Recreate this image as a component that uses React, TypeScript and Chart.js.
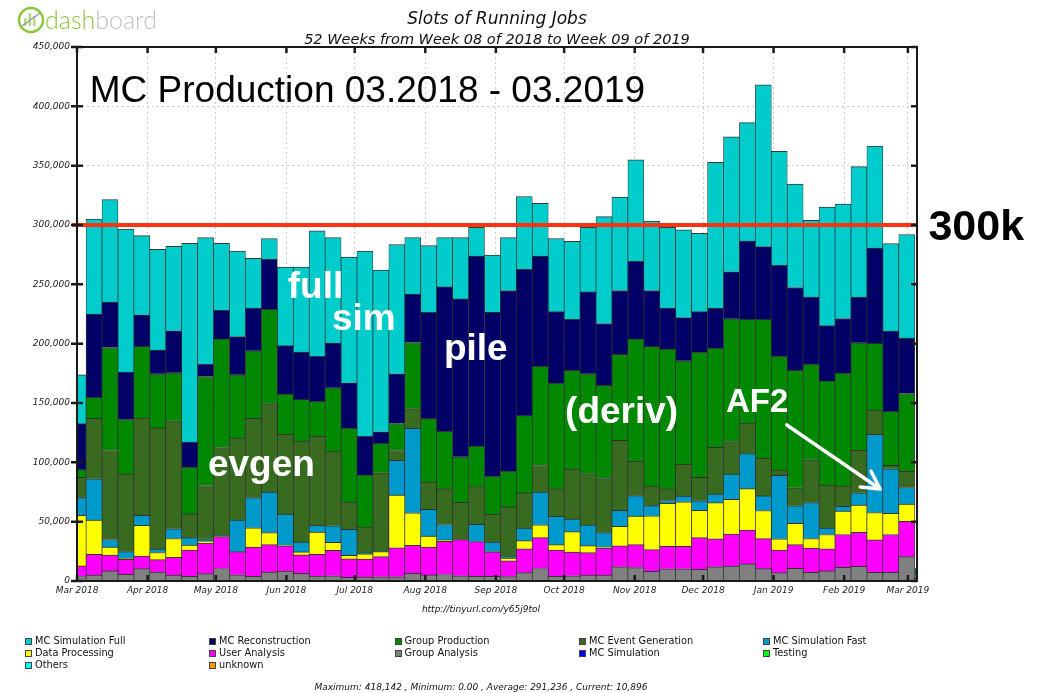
import React, { useEffect, useRef } from 'react';
import { Chart, registerables } from 'chart.js';

Chart.register(...registerables);

// ---------- categories ----------
const weekStarts: string[] = [
  '2018-02-26', '2018-03-05', '2018-03-12', '2018-03-19', '2018-03-26', '2018-04-02', '2018-04-09', '2018-04-16', '2018-04-23', '2018-04-30',
  '2018-05-07', '2018-05-14', '2018-05-21', '2018-05-28', '2018-06-04', '2018-06-11', '2018-06-18', '2018-06-25', '2018-07-02', '2018-07-09',
  '2018-07-16', '2018-07-23', '2018-07-30', '2018-08-06', '2018-08-13', '2018-08-20', '2018-08-27', '2018-09-03', '2018-09-10', '2018-09-17',
  '2018-09-24', '2018-10-01', '2018-10-08', '2018-10-15', '2018-10-22', '2018-10-29', '2018-11-05', '2018-11-12', '2018-11-19', '2018-11-26',
  '2018-12-03', '2018-12-10', '2018-12-17', '2018-12-24', '2018-12-31', '2019-01-07', '2019-01-14', '2019-01-21', '2019-01-28', '2019-02-04',
  '2019-02-11', '2019-02-18', '2019-02-25', '2019-03-04',
];

// ---------- series values (thousands of slots) ----------
const mcSimulationFull = [41.1, 80, 86.5, 120.6, 66.6, 84.9, 71.2, 167.5, 106.9, 56.5, 72, 42, 17.6, 66.3, 71.6, 105.6, 89.1, 106, 156, 136.2, 109, 47.7, 56.3, 41.7, 51.8, 24.2, 48.3, 44.7, 61.4, 44.4, 61.6, 65.7, 54.4, 90, 78.7, 85.6, 58.6, 68, 74, 66, 122.8, 113.9, 99.8, 136.3, 96, 87.2, 64.7, 99.8, 96.4, 109.9, 86.1, 73.7, 87.3, 1.8];
const mcReconstruction = [38.8, 70.2, 38.2, 40, 26.7, 19.9, 35.3, 21, 10.3, 24, 32.2, 36, 42, 40.8, 40, 37.9, 37.6, 38.2, 32.6, 9.8, 41.9, 40.8, 89.6, 121.6, 133.1, 160, 138, 152.2, 123.3, 92.8, 60.2, 42.9, 69, 52.1, 53.8, 65.4, 47.1, 34.6, 36.4, 34, 33.8, 39.5, 66, 61.3, 76.5, 69.8, 56.6, 46.6, 46, 38.5, 80.3, 67.7, 46.7, 1.4];
const groupProduction = [6.5, 17.8, 86.8, 46, 60.5, 45.6, 40.5, 39.5, 91.8, 91.5, 53.3, 57, 79.5, 33.8, 35, 29.5, 53.3, 62.2, 44, 24.8, 22.7, 55.7, 53.4, 48.4, 38.3, 34.3, 32.2, 30.2, 65.1, 83.7, 89, 83.3, 84.1, 78.6, 72.5, 103.1, 117.7, 117.6, 87.3, 105.7, 83.6, 103.5, 87.5, 117.1, 96, 99, 80.5, 87.8, 95.3, 90.6, 56.2, 45.6, 65.5, 1.0];
const mcEventGeneration = [17.1, 50.8, 75, 65.2, 81.9, 102, 91, 20, 45, 73.9, 69.2, 66.7, 74.5, 67.4, 85.2, 75, 63, 23.1, 21.9, 66.2, 8.3, 16.6, 23.1, 30.2, 31.2, 31.8, 23.3, 41.9, 29.6, 22.3, 23.2, 42.1, 43.4, 45.5, 59, 28.9, 16.5, 10, 26.7, 19.7, 39.3, 27.5, 25.7, 31.7, 4.5, 15.1, 36.1, 36.3, 17, 35.8, 20.5, 2.8, 13.7, 0.5];
const mcSimulationFast = [14.8, 34.9, 6.5, 5.6, 8.3, 3, 8.2, 6.3, 1.7, 1.0, 26.6, 25.5, 34.2, 26.5, 8.3, 5.8, 13.9, 21.9, 0.7, 0.2, 29.2, 71.2, 22.5, 13, 0.1, 14.5, 8.2, 1.1, 10.6, 27.7, 24, 10.6, 17.3, 12.3, 13.4, 17.2, 8.5, 2.3, 4.8, 8.1, 7.3, 21.1, 29.5, 12.3, 53.4, 14.9, 30.3, 5.3, 3.9, 10.5, 65.8, 37.5, 14, 2.5];
const dataProcessing = [42.7, 28.8, 6.6, 0.9, 26, 6, 15.8, 4.2, 1.8, 0.2, 0, 16.3, 10.2, 0.1, 2.5, 18.7, 6.8, 3, 4.3, 4.2, 44.5, 27.5, 9.3, 1.1, 0.2, 0, 0.1, 2.3, 6.8, 10.8, 4.6, 17.2, 5.9, 0.8, 16.4, 24.2, 28.5, 36.3, 37.6, 23, 30.5, 29.3, 34.8, 23.7, 9.5, 17.9, 8, 12.1, 19.8, 22.8, 23.1, 17.9, 14.5, 0.3];
const userAnalysis = [8.9, 17.5, 13.4, 12.7, 10.6, 10.5, 15, 22, 25.8, 26.9, 19.5, 24.5, 23, 21.3, 15.5, 18.3, 21.4, 15.6, 15.2, 17.1, 24.5, 23.5, 23.4, 28, 30.4, 29.2, 20.6, 13.4, 20.2, 26, 22, 20, 18.9, 22.7, 17.7, 19.3, 18.3, 18.9, 18.9, 26.7, 23.5, 27, 28.6, 25.3, 19.1, 20, 20.4, 18.6, 27.6, 28.8, 27.2, 31.8, 29.8, 1.2];
const groupAnalysis = [3.8, 5, 8.5, 5.6, 10.4, 7.5, 5, 4, 6.2, 10.5, 5.2, 4, 7.6, 8.4, 6.5, 4.2, 4.4, 3, 3.3, 3.5, 3.5, 6.5, 5.1, 5.5, 4.4, 4, 4, 3.7, 7, 10.5, 4, 4.4, 5, 5, 12, 11.3, 8.2, 10.3, 10.3, 9.8, 12, 12.6, 14.4, 10.4, 7, 10.6, 7.4, 8.5, 11.6, 12.3, 7.4, 7.4, 20.5, 1.5];
const mcSimulation = [0, 0, 0, 0, 0, 0, 0, 0, 0, 0, 0, 0, 0, 0, 0, 0, 0, 0, 0, 0, 0, 0, 0, 0, 0, 0, 0, 0, 0, 0, 0, 0, 0, 0, 0, 0, 0, 0, 0, 0, 0, 0, 0, 0, 0, 0, 0, 0, 0, 0, 0, 0, 0, 0];
const testing = [0, 0, 0, 0, 0, 0, 0, 0, 0, 0, 0, 0, 0, 0, 0, 0, 0, 0, 0, 0, 0, 0, 0, 0, 0, 0, 0, 0, 0, 0, 0, 0, 0, 0, 0, 0, 0, 0, 0, 0, 0, 0, 0, 0, 0, 0, 0, 0, 0, 0, 0, 0, 0, 0.3];
const others = [0, 0, 0, 0, 0, 0, 0, 0, 0, 0, 0, 0, 0, 0, 0, 0, 0, 0, 0, 0, 0, 0, 0, 0, 0, 0, 0, 0, 0, 0, 0, 0, 0, 0, 0, 0, 0, 0, 0, 0, 0, 0, 0, 0, 0, 0, 0, 0, 0, 0, 0, 0, 0, 0.4];
const unknown = [0, 0, 0, 0, 0, 0, 0, 0, 0, 0, 0, 0, 0, 0, 0, 0, 0, 0, 0, 0, 0, 0, 0, 0, 0, 0, 0, 0, 0, 0, 0, 0, 0, 0, 0, 0, 0, 0, 0, 0, 0, 0, 0, 0, 0, 0, 0, 0, 0, 0, 0, 0, 0, 0];

// ---------- axis ticks ----------
const monthTickDates = ['2018-03-01', '2018-04-01', '2018-05-01', '2018-06-01', '2018-07-01', '2018-08-01', '2018-09-01', '2018-10-01', '2018-11-01', '2018-12-01', '2019-01-01', '2019-02-01', '2019-03-01'];
const monthTickLabels = ['Mar 2018', 'Apr 2018', 'May 2018', 'Jun 2018', 'Jul 2018', 'Aug 2018', 'Sep 2018', 'Oct 2018', 'Nov 2018', 'Dec 2018', 'Jan 2019', 'Feb 2019', 'Mar 2019'];
const AXIS_START = '2018-03-01';
const AXIS_END = '2019-03-05';
const Y_MAX = 450000;
const Y_STEP = 50000;
const REFERENCE_LEVEL = 300000;
const UNIT = 1000;

// legend order (top of stack first)
const seriesNames = ['MC Simulation Full', 'MC Reconstruction', 'Group Production', 'MC Event Generation', 'MC Simulation Fast', 'Data Processing', 'User Analysis', 'Group Analysis', 'MC Simulation', 'Testing', 'Others', 'unknown'];
const seriesColors = ['#00cccc', '#000066', '#008800', '#386a20', '#0099cc', '#ffff00', '#ff00ff', '#808080', '#0000ff', '#00ff00', '#00ffff', '#ff9900'];
const seriesValues = [mcSimulationFull, mcReconstruction, groupProduction, mcEventGeneration, mcSimulationFast, dataProcessing, userAnalysis, groupAnalysis, mcSimulation, testing, others, unknown];

// annotations in data coordinates (day offset, slots)
const annotations = [
  { text: 'MC Production 03.2018 - 03.2019', day: 5.6, value: 403600, size: 37, weight: 'normal', color: '#000000' },
  { text: 'full', day: 92.6, value: 238500, size: 37, weight: 'bold', color: '#ffffff' },
  { text: 'sim', day: 112, value: 211500, size: 37, weight: 'bold', color: '#ffffff' },
  { text: 'pile', day: 161.2, value: 186200, size: 37, weight: 'bold', color: '#ffffff' },
  { text: 'evgen', day: 57.5, value: 88500, size: 37, weight: 'bold', color: '#ffffff' },
  { text: '(deriv)', day: 214.4, value: 133100, size: 37, weight: 'bold', color: '#ffffff' },
  { text: 'AF2', day: 285.1, value: 142400, size: 33, weight: 'bold', color: '#ffffff' },
  { text: '300k', day: 374, value: 287400, size: 43, weight: 'bold', color: '#000000' },
];
const arrowFrom = { day: 311.8, value: 131500 };
const arrowTo = { day: 352.8, value: 77500 };

const TICK_FONT = '"DejaVu Sans", sans-serif';

function dayOffset(iso: string): number {
  return (Date.parse(iso + 'T00:00:00Z') - Date.parse(AXIS_START + 'T00:00:00Z')) / 86400000;
}

const overlayPlugin = {
  id: 'overlay',
  afterDatasetsDraw(chart: any) {
    const { ctx, chartArea: a } = chart;
    const x = chart.scales.x;
    const y = chart.scales.y;
    ctx.save();
    // reference line
    const ry = y.getPixelForValue(REFERENCE_LEVEL);
    ctx.strokeStyle = '#ff3311';
    ctx.lineWidth = 4;
    ctx.beginPath();
    ctx.moveTo(a.left - 5, ry);
    ctx.lineTo(a.right + 1, ry);
    ctx.stroke();

    // frame
    ctx.strokeStyle = '#1a1a1a';
    ctx.lineWidth = 2;
    ctx.strokeRect(a.left, a.top, a.right - a.left, a.bottom - a.top);
    ctx.lineWidth = 2.5;
    ctx.beginPath();
    y.ticks.forEach((t: any) => {
      const py = y.getPixelForValue(t.value);
      ctx.moveTo(a.left - 6, py);
      ctx.lineTo(a.left + 6, py);
      ctx.moveTo(a.right - 6, py);
      ctx.lineTo(a.right, py);
    });
    x.ticks.forEach((t: any) => {
      const px = x.getPixelForValue(t.value);
      ctx.moveTo(px, a.top);
      ctx.lineTo(px, a.top + 6);
      ctx.moveTo(px, a.bottom - 6);
      ctx.lineTo(px, a.bottom + 1);
    });
    ctx.stroke();

    // text annotations
    ctx.textBaseline = 'alphabetic';
    ctx.textAlign = 'left';
    annotations.forEach((an) => {
      ctx.font = `${an.weight} ${an.size}px "Liberation Sans", Arial, sans-serif`;
      ctx.fillStyle = an.color;
      ctx.fillText(an.text, x.getPixelForValue(an.day), y.getPixelForValue(an.value));
    });

    // arrow
    const x1 = x.getPixelForValue(arrowFrom.day);
    const y1 = y.getPixelForValue(arrowFrom.value);
    const x2 = x.getPixelForValue(arrowTo.day);
    const y2 = y.getPixelForValue(arrowTo.value);
    const ang = Math.atan2(y2 - y1, x2 - x1);
    const head = 20;
    ctx.strokeStyle = '#ffffff';
    ctx.lineWidth = 3.5;
    ctx.lineCap = 'round';
    ctx.beginPath();
    ctx.moveTo(x1, y1);
    ctx.lineTo(x2, y2);
    ctx.moveTo(x2, y2);
    ctx.lineTo(x2 - head * Math.cos(ang - 0.5), y2 - head * Math.sin(ang - 0.5));
    ctx.moveTo(x2, y2);
    ctx.lineTo(x2 - head * Math.cos(ang + 0.5), y2 - head * Math.sin(ang + 0.5));
    ctx.stroke();
    ctx.restore();
  },
};

function ChartCanvas() {
  const ref = useRef<HTMLCanvasElement | null>(null);
  useEffect(() => {
    if (!ref.current) return;
    const datasets = seriesNames
      .map((name, i) => ({
        label: name,
        data: weekStarts.map((w, k) => ({
          x: dayOffset(w) + 3.5,
          y: seriesValues[i][k] ? seriesValues[i][k] * UNIT : null,
        })),
        backgroundColor: seriesColors[i],
        borderColor: 'rgba(20,20,20,0.85)',
        borderWidth: { top: 1, right: 0.7, bottom: 0, left: 0.7 },
        borderSkipped: false,
        barPercentage: 1,
        categoryPercentage: 1,
        clip: 0,
      }))
      .reverse();

    const chart = new Chart(ref.current, {
      type: 'bar',
      data: { datasets: datasets as any },
      plugins: [overlayPlugin],
      options: {
        animation: false,
        responsive: false,
        devicePixelRatio: 1,
        layout: { padding: { left: 0, right: 124, top: 47, bottom: 92 } },
        plugins: { legend: { display: false }, title: { display: false }, tooltip: { enabled: false } },
        scales: {
          x: {
            type: 'linear',
            stacked: true,
            offset: false,
            min: 0,
            max: dayOffset(AXIS_END),
            afterBuildTicks: (s: any) => {
              s.ticks = monthTickDates.map((d) => ({ value: dayOffset(d) }));
            },
            afterFit: (s: any) => {
              s.height = 20;
            },
            ticks: {
              autoSkip: false,
              maxRotation: 0,
              minRotation: 0,
              padding: 4,
              color: '#222',
              font: { family: TICK_FONT, size: 9, style: 'italic' },
              callback: (_v: any, i: number) => monthTickLabels[i],
            },
            grid: { color: '#cccccc', drawTicks: false, lineWidth: 1, offset: false },
            border: { display: false, dash: [2, 3] },
          },
          y: {
            stacked: true,
            min: 0,
            max: Y_MAX,
            afterFit: (s: any) => {
              s.width = 77;
            },
            ticks: {
              stepSize: Y_STEP,
              padding: 7,
              color: '#222',
              font: { family: TICK_FONT, size: 9, style: 'italic' },
              callback: (v: any) => Number(v).toLocaleString('en-US'),
            },
            grid: { color: '#cccccc', drawTicks: false, lineWidth: 1 },
            border: { display: false, dash: [2, 3] },
          },
        },
      } as any,
    });
    return () => chart.destroy();
  }, []);
  return <canvas ref={ref} width={1041} height={693} style={{ position: 'absolute', left: 0, top: 0, width: 1041, height: 693 }} />;
}

const legendColumns = [25, 209, 394.5, 579, 763];
const legendRows = [635, 647, 659];

export default function App() {
  const textFont = '"DejaVu Sans", sans-serif';
  return (
    <div style={{ position: 'absolute', left: 0, top: 0, width: 1041, height: 693, overflow: 'hidden', background: '#fff' }}>
      <ChartCanvas />
      {/* logo */}
      <svg width={32} height={32} style={{ position: 'absolute', left: 16, top: 4 }}>
        <circle cx={15} cy={16} r={12} stroke="#8dc63f" strokeWidth={2.5} fill="none" />
        <rect x={8} y={14} width={2.5} height={8} fill="#b5d98a" />
        <rect x={12.5} y={9} width={2.5} height={13} fill="#b5d98a" />
        <rect x={17} y={12} width={2.5} height={10} fill="#b5d98a" />
        <line x1={6} y1={22} x2={24} y2={9} stroke="#9a9a9a" strokeWidth={1.5} />
      </svg>
      <div style={{ position: 'absolute', left: 45, top: 3, fontFamily: 'Lato, "Noto Sans", sans-serif', fontWeight: 300, fontSize: 25, lineHeight: '32px' }}>
        <span style={{ color: '#8dc63f' }}>dash</span>
        <span style={{ color: '#c2c2c2' }}>board</span>
      </div>
      {/* titles */}
      <div style={{ position: 'absolute', left: 297, width: 400, top: 8, textAlign: 'center', fontFamily: textFont, fontStyle: 'italic', fontSize: 17, lineHeight: '20px', color: '#111' }}>
        Slots of Running Jobs
      </div>
      <div style={{ position: 'absolute', left: 197, width: 600, top: 30, textAlign: 'center', fontFamily: textFont, fontStyle: 'italic', fontSize: 14.5, lineHeight: '18px', color: '#111' }}>
        52 Weeks from Week 08 of 2018 to Week 09 of 2019
      </div>
      <div style={{ position: 'absolute', left: 281, width: 400, top: 603, textAlign: 'center', fontFamily: textFont, fontStyle: 'italic', fontSize: 9, lineHeight: '12px', color: '#111' }}>
        http://tinyurl.com/y65j9tol
      </div>
      {/* legend */}
      {seriesNames.map((name, i) => {
        const col = i % 5;
        const row = Math.floor(i / 5);
        return (
          <div key={name} style={{ position: 'absolute', left: legendColumns[col], top: legendRows[row], height: 12, whiteSpace: 'nowrap' }}>
            <div style={{ position: 'absolute', left: 0, top: 2.5, width: 5, height: 5, background: seriesColors[i], border: '1px solid #444' }} />
            <div style={{ position: 'absolute', left: 10, top: 0, fontFamily: textFont, fontSize: 9.8, lineHeight: '12px', color: '#111' }}>{name}</div>
          </div>
        );
      })}
      <div style={{ position: 'absolute', left: 181, width: 600, top: 681, textAlign: 'center', fontFamily: textFont, fontStyle: 'italic', fontSize: 9, lineHeight: '12px', color: '#111' }}>
        Maximum: 418,142 , Minimum: 0.00 , Average: 291,236 , Current: 10,896
      </div>
    </div>
  );
}
